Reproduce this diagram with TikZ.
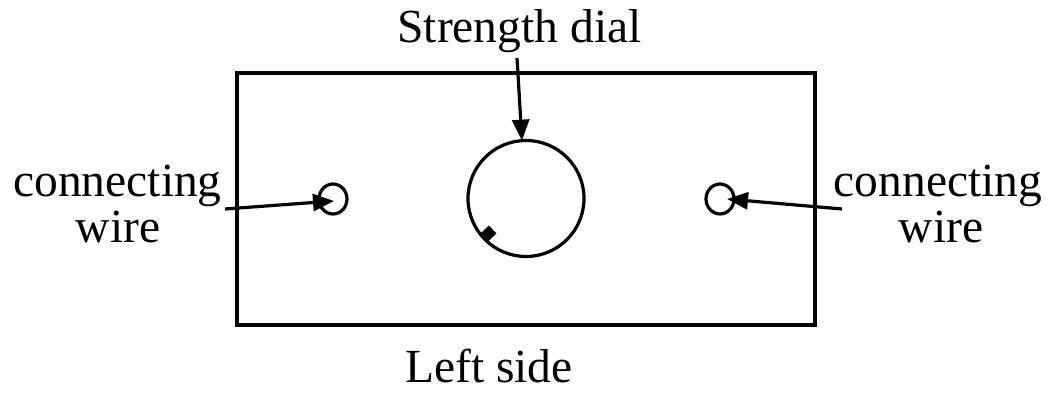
\documentclass[tikz,border=0pt]{standalone}
\usepackage{fontspec}
\setmainfont{Liberation Serif}
\usetikzlibrary{arrows.meta,calc,shapes.geometric}
\tikzset{
  lbl/.style={font=\fontsize{47.5}{46}\selectfont, inner sep=0pt, anchor=base, align=center},
  arr/.style={line width=3.2pt, -{Triangle[length=21pt,width=17pt]}},
  hole/.style={draw, line width=3.2pt, ellipse, minimum width=28pt, minimum height=30pt, inner sep=0pt},
}
\begin{document}
\begin{tikzpicture}[x=1pt,y=1pt]
\useasboundingbox (0,0) rectangle (1048,393);
% box
\node[draw, line width=3.8pt, minimum width=578pt, minimum height=252pt, inner sep=0pt, outer sep=0pt] (box) at (526,194) {};
% dial
\node[draw, line width=3.2pt, circle, minimum size=116pt, inner sep=0pt, outer sep=0pt] (dial) at (526,194.5) {};
\node[fill, minimum size=11pt, inner sep=0pt, rotate=43] (mark) at ($(dial.center)+(223:51)$) {};
% holes
\node[hole] (lh) at (333,194) {};
\node[hole] (rh) at (720,194) {};
% labels
\node[lbl] (sd) at (519.5,350) {Strength dial};
\node[lbl] (ls) at (489,10) {Left side};
\node[lbl] (lw1) at (117.5,196) {connecting};
\node[lbl] (lw2) at (118,150) {wire};
\node[lbl] (rw1) at (938,196) {connecting};
\node[lbl] (rw2) at (941,150) {wire};
% connectors
\coordinate (sdstart) at (517,335);
\coordinate (lstart) at (225,184);
\coordinate (rstart) at (842,184);
\coordinate (ltip) at (334,192);
\coordinate (rtip) at (727,194);
\draw[arr] (sdstart) -- (dial.94);
\draw[arr] (lstart) -- (ltip);
\draw[arr] (rstart) -- (rtip);
\end{tikzpicture}
\end{document}
